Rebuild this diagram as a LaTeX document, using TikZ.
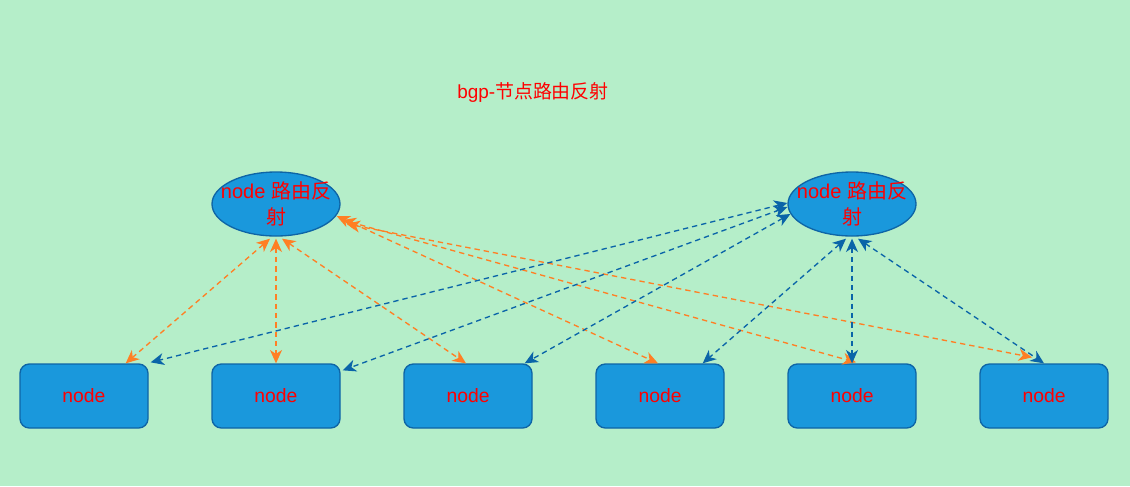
\documentclass[tikz,border=0pt]{standalone}
\usepackage{fontspec}
\setmainfont{Liberation Sans}
\newfontfamily\cjk{Noto Sans CJK SC}
\usetikzlibrary{arrows.meta,shapes.geometric,calc}
\definecolor{bgc}{HTML}{B5EEC9}
\definecolor{boxc}{HTML}{1A98DC}
\definecolor{edgec}{HTML}{0E65A6}
\definecolor{orc}{HTML}{FF7F24}
\definecolor{blc}{HTML}{0A64A8}
\tikzset{
  client/.style={draw=edgec,fill=boxc,line width=1pt,rounded corners=7pt,
    minimum width=96pt,minimum height=48pt,inner sep=0pt,text=red,font=\fontsize{14.5}{17}\selectfont},
  reflector/.style={ellipse,draw=edgec,fill=boxc,line width=1pt,
    minimum width=96pt,minimum height=48pt,inner xsep=-8pt,inner ysep=0pt,text=red,align=center,
    font=\fontsize{15}{19}\selectfont},
  orlink/.style={draw=orc,line width=1pt,dash pattern=on 4pt off 3pt,<->},
  bllink/.style={draw=blc,line width=1pt,dash pattern=on 4pt off 3pt,<->}
}
\begin{document}
\begin{tikzpicture}[x=0.75pt,y=-0.75pt,>={Stealth[length=10pt,width=9pt,inset=3pt]}]
\fill[bgc] (0,0) rectangle (1130,486); % background
\node[text=red,font=\fontsize{14.2}{17}\selectfont] (title) at (533,92) {bgp-{\cjk 节点路由反射}}; % title
\node[reflector] (rl) at (276,204) {node {\cjk 路由反}\\{\cjk 射}}; % left reflector
\node[reflector] (rr) at (852,204) {node {\cjk 路由反}\\{\cjk 射}}; % right reflector
\foreach \i in {1,...,6}
  \node[client] (n\i) at ({84+192*(\i-1)},396) {node}; % clients
% left reflector links
\draw[orlink] ($(rl.south)+(-6,2)$) -- ($(n1.north east)+(-23,0)$);
\draw[orlink] ($(rl.south)+(0,2)$) -- (n2.north);
\draw[orlink] ($(rl.south)+(6,2)$) -- ($(n3.north)+(-2,0)$);
\draw[orlink] ($(rl.east)+(-4,12)$) -- ($(n4.north)+(-2,0)$);
\draw[orlink] ($(rl.east)+(2,16)$) -- ($(n5.north)+(4,-1)$);
\draw[orlink] ($(rl.east)+(6,20)$) -- ($(n6.north)+(-12,-6)$);
% right reflector links
\draw[bllink] ($(rr.west)+(0,-1)$) -- ($(n1.north east)+(2,-1)$);
\draw[bllink] ($(rr.west)+(0,3)$) -- ($(n2.north east)+(2,7)$);
\draw[bllink] ($(rr.west)+(3,10)$) -- ($(n3.north east)+(-8,0)$);
\draw[bllink] ($(rr.south)+(-6,2)$) -- ($(n4.north east)+(-22,0)$);
\draw[bllink] ($(rr.south)+(0,2)$) -- (n5.north);
\draw[bllink] ($(rr.south)+(6,2)$) -- (n6.north);
\end{tikzpicture}
\end{document}
